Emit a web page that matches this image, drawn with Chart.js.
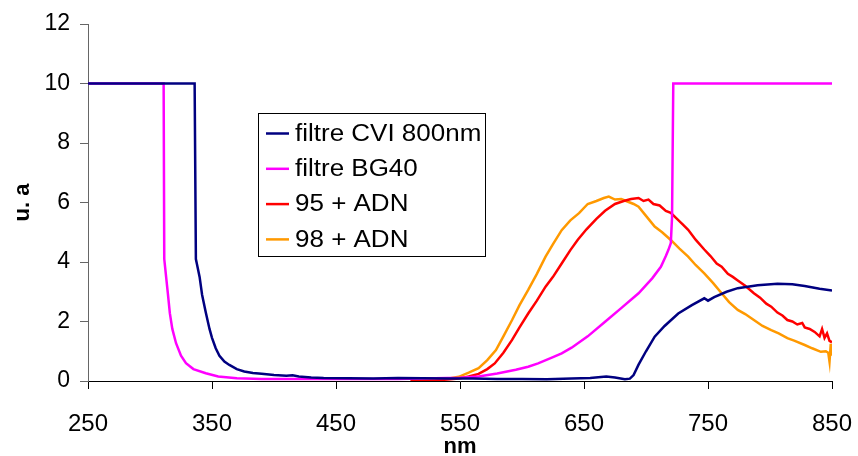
<!DOCTYPE html>
<html>
<head>
<meta charset="utf-8">
<script src="https://cdn.jsdelivr.net/npm/chart.js@4.4.1/dist/chart.umd.min.js"></script>
<style>
  html, body { margin: 0; padding: 0; background: #fff; }
  #wrap { width: 858px; height: 456px; }
</style>
</head>
<body>
<div id="wrap"><canvas id="chart" width="858" height="456"></canvas></div>
<script>
// axis ticks
const xTicks = [250, 350, 450, 550, 650, 750, 850];
const yTicks = [0, 2, 4, 6, 8, 10, 12];

// filtre CVI 800nm
const cviNm  = [250, 336, 337, 338, 340, 342, 345, 348, 350, 353, 356, 360, 364, 370, 376, 383, 390, 400, 410, 415, 420, 430, 440, 460, 480, 500, 520, 540, 560, 580, 600, 620, 640, 655, 668, 675, 683, 687, 690, 694, 700, 707, 715, 726, 737, 747, 750, 755, 765, 774, 790, 806, 818, 828, 840, 850];
const cviVal = [10, 10, 4.1, 3.9, 3.5, 2.9, 2.3, 1.75, 1.45, 1.1, 0.85, 0.65, 0.54, 0.4, 0.32, 0.27, 0.24, 0.2, 0.18, 0.19, 0.15, 0.12, 0.1, 0.09, 0.08, 0.1, 0.09, 0.08, 0.08, 0.07, 0.07, 0.06, 0.08, 0.1, 0.15, 0.12, 0.06, 0.08, 0.2, 0.55, 1.0, 1.49, 1.85, 2.27, 2.55, 2.78, 2.7, 2.82, 3.0, 3.12, 3.22, 3.27, 3.25, 3.19, 3.1, 3.04];

// filtre BG40
const bgNm  = [250, 311, 311.5, 313, 314.5, 316, 318, 321, 325, 329, 335, 345, 355, 370, 390, 420, 460, 500, 530, 550, 565, 580, 595, 605, 613, 625, 632, 640, 653, 667, 680, 694, 705, 712, 716, 718, 720, 721, 722, 850];
const bgVal = [10, 10, 4.1, 3.5, 2.9, 2.28, 1.75, 1.27, 0.85, 0.6, 0.4, 0.26, 0.15, 0.09, 0.07, 0.07, 0.07, 0.07, 0.09, 0.11, 0.15, 0.25, 0.38, 0.48, 0.59, 0.8, 0.93, 1.12, 1.5, 1.99, 2.45, 2.95, 3.45, 3.84, 4.2, 4.4, 4.63, 5.5, 10, 10];

// 95 + ADN
const a95Nm  = [510, 530, 540, 549, 557, 565, 572, 578, 585, 592, 598, 605, 612, 619, 625, 632, 639, 645, 652, 660, 667, 675, 682, 688, 694, 698, 702, 706, 711, 716, 720, 725, 730, 734, 740, 747, 752, 757, 761, 766, 770, 774, 780, 787, 792, 797, 801, 806, 810, 814, 818, 822, 826, 828, 832, 836, 840, 842, 844, 846, 848, 850];
const a95Val = [0, 0.02, 0.05, 0.08, 0.15, 0.24, 0.4, 0.59, 0.95, 1.38, 1.8, 2.27, 2.7, 3.17, 3.5, 3.95, 4.4, 4.75, 5.1, 5.45, 5.72, 5.95, 6.05, 6.12, 6.15, 6.05, 6.1, 5.95, 5.9, 5.72, 5.65, 5.45, 5.25, 5.08, 4.75, 4.42, 4.2, 3.95, 3.84, 3.6, 3.5, 3.38, 3.2, 2.95, 2.8, 2.6, 2.5, 2.3, 2.2, 2.05, 2.0, 1.9, 1.95, 1.8, 1.75, 1.65, 1.5, 1.75, 1.45, 1.6, 1.35, 1.3];

// 98 + ADN
const a98Nm  = [520, 530, 540, 549, 557, 565, 572, 579, 585, 592, 598, 605, 612, 619, 625, 632, 639, 646, 653, 660, 666, 670, 675, 680, 684, 690, 694, 700, 707, 713, 720, 727, 734, 740, 747, 754, 761, 767, 774, 780, 787, 794, 801, 807, 814, 820, 828, 834, 841, 845, 847, 848, 849, 850];
const a98Val = [0, 0.03, 0.08, 0.14, 0.28, 0.43, 0.7, 1.04, 1.5, 2.05, 2.55, 3.06, 3.6, 4.18, 4.6, 5.07, 5.4, 5.64, 5.95, 6.05, 6.15, 6.2, 6.1, 6.12, 6.05, 5.95, 5.86, 5.55, 5.19, 5.0, 4.74, 4.45, 4.18, 3.9, 3.62, 3.3, 2.95, 2.65, 2.39, 2.25, 2.05, 1.85, 1.71, 1.6, 1.44, 1.35, 1.21, 1.1, 0.98, 1.0, 0.95, 0.65, 1.25, 0.85];

function pairs(xs, ys) {
    return xs.map((x, i) => ({ x: x, y: ys[i] }));
}

const FONT = "'Liberation Sans', Arial, sans-serif";

// legend drawn as a framed box inside the plot area
const boxLegend = {
    id: 'boxLegend',
    afterDraw(chart) {
        const ctx = chart.ctx;
        ctx.save();
        ctx.fillStyle = '#fff';
        ctx.fillRect(258, 113, 227, 143);
        ctx.strokeStyle = '#000';
        ctx.lineWidth = 1;
        ctx.strokeRect(258.5, 113.5, 227, 143);
        ctx.font = '23px ' + FONT;
        ctx.textBaseline = 'middle';
        chart.data.datasets.forEach((ds, i) => {
            const y = 133.5 + i * 35.3;
            ctx.strokeStyle = ds.borderColor;
            ctx.lineWidth = 2.5;
            ctx.beginPath();
            ctx.moveTo(266, y);
            ctx.lineTo(289, y);
            ctx.stroke();
            ctx.fillStyle = '#000';
            // the original text is a bit stretched sideways
            ctx.save();
            ctx.translate(295, y + 1);
            ctx.scale(1.13, 1);
            ctx.fillText(ds.label, 0, 0);
            ctx.restore();
        });
        ctx.restore();
    }
};

function series(label, color, data) {
    return {
        label: label,
        data: data,
        borderColor: color,
        backgroundColor: color,
        borderWidth: 2.5,
        pointRadius: 0,
        tension: 0,
        fill: false
    };
}

new Chart(document.getElementById('chart').getContext('2d'), {
    type: 'line',
    data: {
        datasets: [
            series('filtre CVI 800nm', '#000080', pairs(cviNm, cviVal)),
            series('filtre BG40', '#FF00FF', pairs(bgNm, bgVal)),
            series('95 + ADN', '#FF0000', pairs(a95Nm, a95Val)),
            series('98 + ADN', '#FF9900', pairs(a98Nm, a98Val))
        ]
    },
    options: {
        responsive: false,
        animation: false,
        layout: { padding: { top: 24, right: 26, left: 0, bottom: 0 } },
        plugins: {
            legend: { display: false },
            tooltip: { enabled: false }
        },
        scales: {
            x: {
                type: 'linear',
                min: 250,
                max: 850,
                afterBuildTicks: (s) => { s.ticks = xTicks.map(v => ({ value: v })); },
                afterFit: (s) => { s.height = 75; s.paddingLeft = 0; s.paddingRight = 0; },
                grid: { drawOnChartArea: false, drawTicks: true, tickLength: 8, color: '#000' },
                border: { display: true, color: '#000', width: 1 },
                ticks: { color: '#000', font: { family: FONT, size: 24 }, padding: 21, maxRotation: 0 },
                title: { display: true, text: 'nm', color: '#000', font: { family: FONT, size: 22, weight: 'bold', lineHeight: 0.8 }, padding: { top: 0, bottom: 0 } }
            },
            y: {
                min: 0,
                max: 12,
                afterBuildTicks: (s) => { s.ticks = yTicks.map(v => ({ value: v })); },
                afterFit: (s) => { s.width = 88; s.paddingTop = 0; s.paddingBottom = 0; },
                grid: { drawOnChartArea: false, drawTicks: true, tickLength: 8, color: '#666' },
                border: { display: true, color: '#666', width: 1 },
                ticks: { color: '#000', font: { family: FONT, size: 23 }, padding: 10 },
                title: { display: true, text: 'u. a', color: '#000', font: { family: FONT, size: 22, weight: 'bold' }, padding: { top: 10, bottom: 0 } }
            }
        }
    },
    plugins: [boxLegend]
});
</script>
</body>
</html>
